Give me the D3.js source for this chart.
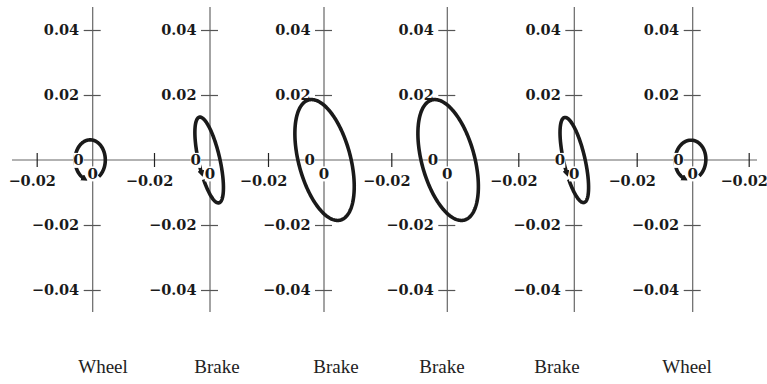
<!DOCTYPE html>
<html>
<head>
<meta charset="utf-8">
<script src="https://cdn.jsdelivr.net/npm/d3@7"></script>
<style>
  body { margin: 0; background: #fff; }
  svg { display: block; }
  .tick text { font-family: "DejaVu Serif", serif; font-weight: bold; font-size: 14.5px; fill: #1a1a1a; }
</style>
</head>
<body>
<div id="chart"></div>
<script>
// mode shape of each component, x and y amplitude + phase between them
const panelNames = ["Wheel", "Brake", "Brake", "Brake", "Brake", "Wheel"];
const xAmp = [0.0054, 0.0051, 0.0106, 0.0108, 0.0051, 0.0055];
const yAmp = [0.0062, 0.0132, 0.0186, 0.0186, 0.0131, 0.0061];
const phaseDeg = [90, 130, 116, 116, 130, 88];
const xCenter = [-0.0009, -0.0003, 0.0002, 0.0003, 0, -0.0008];
const arcStart = [55, 113, 0, 0, 113, 55];
const arcEnd = [-245, -237, -360, -360, -237, -245];
const hasArrow = [true, true, false, false, true, true];

const yTicks = [0.04, 0.02, -0.02, -0.04];
const yTickLabels = ["0.04", "0.02", "\u22120.02", "\u22120.04"];
const xTicks = [[-0.02], [-0.02], [-0.02], [-0.02], [-0.02], [-0.02, 0.02]];
const xTickLabels = [["\u22120.02"], ["\u22120.02"], ["\u22120.02"], ["\u22120.02"], ["\u22120.02"], ["\u22120.02", "\u22120.02"]];

// layout
const W = 767, H = 384;
const panelX = [92.7, 210, 324, 447.3, 574.3, 692.7];
const labelX = [103, 217, 336, 442, 557, 687];
const halfW = 56; // px for 0.02 on x

const svg = d3.select("#chart").append("svg")
  .attr("width", W).attr("height", H);

svg.append("defs").append("marker")
  .attr("id", "arrow")
  .attr("markerUnits", "userSpaceOnUse")
  .attr("markerWidth", 8).attr("markerHeight", 8)
  .attr("refX", 2).attr("refY", 3.5)
  .attr("orient", "auto")
  .append("path")
  .attr("d", "M0,0 L6.5,3.5 L0,7 z")
  .attr("fill", "#1a1a1a");

const y = d3.scaleLinear().domain([-0.04, 0.04]).range([290, 30]);

// long horizontal axis through all panels
svg.append("line")
  .attr("x1", 12).attr("x2", 757)
  .attr("y1", y(0)).attr("y2", y(0))
  .attr("stroke", "#666").attr("stroke-width", 1.2);

panelNames.forEach((name, i) => {
  const px = panelX[i];
  const x = d3.scaleLinear().domain([-0.02, 0.02]).range([px - halfW, px + halfW]);
  const g = svg.append("g");

  // vertical axis
  g.append("line")
    .attr("x1", px).attr("x2", px)
    .attr("y1", y(0.0471)).attr("y2", y(-0.0468))
    .attr("stroke", "#666").attr("stroke-width", 1.2);

  // y ticks: left side with labels, right side plain
  const yl = g.append("g").attr("transform", "translate(" + px + ",0)")
    .call(d3.axisLeft(y).tickValues(yTicks).tickSize(9).tickPadding(4.5)
      .tickFormat((d, k) => yTickLabels[k]));
  const yr = g.append("g").attr("transform", "translate(" + px + ",0)")
    .call(d3.axisRight(y).tickValues(yTicks).tickSize(8).tickFormat(""));
  [yl, yr].forEach(a => {
    a.select(".domain").remove();
    a.selectAll(".tick line").attr("stroke", "#555").attr("stroke-width", 1.2);
  });

  // x ticks
  const xb = g.append("g").attr("transform", "translate(0," + y(0) + ")")
    .call(d3.axisBottom(x).tickValues(xTicks[i]).tickSize(7).tickPadding(8.5)
      .tickFormat((d, k) => xTickLabels[i][k]));
  const xt = g.append("g").attr("transform", "translate(0," + y(0) + ")")
    .call(d3.axisTop(x).tickValues(xTicks[i]).tickSize(7).tickFormat(""));
  [xb, xt].forEach(a => {
    a.select(".domain").remove();
    a.selectAll(".tick line").attr("stroke", "#222").attr("stroke-width", 1.2);
  });
  xb.selectAll(".tick text").attr("dx", -5);

  // mode shape ellipse
  const ph = phaseDeg[i] * Math.PI / 180;
  const n = 240;
  const pts = d3.range(n + 1).map(k => {
    const t = (arcStart[i] + (arcEnd[i] - arcStart[i]) * k / n) * Math.PI / 180;
    return [xCenter[i] + xAmp[i] * Math.cos(t), yAmp[i] * Math.cos(t + ph)];
  });
  const line = d3.line().x(d => x(d[0])).y(d => y(d[1]));
  g.append("path")
    .attr("d", line(pts))
    .attr("fill", "none")
    .attr("stroke", "#1a1a1a")
    .attr("stroke-width", 3.6)
    .attr("stroke-linecap", "butt")
    .attr("marker-end", hasArrow[i] ? "url(#arrow)" : null);

  // "0" labels on white boxes
  const zeros = [
    { x: px - 9, y: y(0), anchor: "end" },
    { x: px, y: y(0) + 13.5, anchor: "middle" }
  ];
  zeros.forEach(z => {
    const t = g.append("text")
      .attr("x", z.x).attr("y", z.y).attr("dy", "0.36em")
      .attr("text-anchor", z.anchor)
      .style("font-family", "'DejaVu Serif', serif")
      .style("font-weight", "bold")
      .style("font-size", "15px")
      .attr("fill", "#1a1a1a")
      .text("0");
    const bb = t.node().getBBox();
    g.insert("rect", function() { return t.node(); })
      .attr("x", bb.x).attr("y", bb.y + 1.5)
      .attr("width", bb.width).attr("height", bb.height - 3)
      .attr("fill", "#fff");
  });

  // component name under each panel
  svg.append("text")
    .attr("x", labelX[i]).attr("y", 373)
    .attr("text-anchor", "middle")
    .style("font-family", "'Liberation Serif', serif")
    .style("font-size", "19px")
    .attr("fill", "#222")
    .text(name);
});
</script>
</body>
</html>
